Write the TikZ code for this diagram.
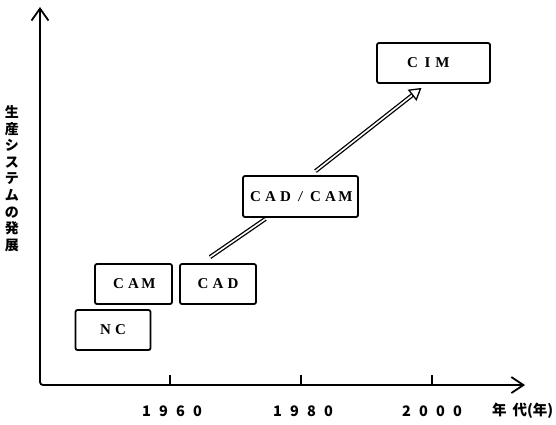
\documentclass[tikz,border=0pt]{standalone}
\usepackage{fontspec}
\setmainfont{Liberation Serif}
\newfontfamily\jp{Noto Sans CJK JP}
\usetikzlibrary{arrows.meta,calc}
\newcommand{\lch}[1]{\makebox[15pt]{#1}}
\newcommand{\dch}[1]{\makebox[17pt]{#1}}
\tikzset{
  x=1pt, y=-1pt,
  stage/.style={draw, line width=1.8pt, rounded corners=2pt, inner sep=0pt,
    font=\bfseries\fontsize{15}{17}\selectfont},
  axisline/.style={line width=1.8pt, rounded corners=3pt},
  dbl/.style={double, double distance=1.6pt, line width=1.3pt},
  year/.style={font=\jp\bfseries\fontsize{14.5}{16}\selectfont, inner sep=0pt},
  tick/.style={line width=1.6pt}
}
\begin{document}
\begin{tikzpicture}
\useasboundingbox (0,0) rectangle (556,424);
% axes
\coordinate (o) at (40,385);
\coordinate (ytip) at (40,7);
\coordinate (xtip) at (525,385);
\draw[axisline, {Straight Barb[length=12pt,width=17pt,line width=1.8pt]}-{Straight Barb[length=12pt,width=16pt,line width=1.8pt]}] (ytip) -- (o) -- (xtip);
% ticks
\foreach \n/\x in {a/170,b/301,c/432}{
  \coordinate (t\n) at (\x,385);
  \coordinate (u\n) at (\x,375);
  \draw[tick] (t\n) -- (u\n);
}
% year labels
\node[year] (y60) at (172,411) {\dch{1}\dch{9}\dch{6}\dch{0}};
\node[year] (y80) at (303,411) {\dch{1}\dch{9}\dch{8}\dch{0}};
\node[year] (y00) at (432,411) {\dch{2}\dch{0}\dch{0}\dch{0}};
\node[year, anchor=west] (nen) at (492,411) {年\hspace{6pt}代(年)};
% vertical label
\node[align=center, inner sep=0pt, font=\jp\bfseries\fontsize{14}{16.6}\selectfont] (ylab) at (12,178.5)
  {生\\産\\シ\\ス\\テ\\ム\\の\\発\\展};
% stages
\node[stage, minimum width=75pt, minimum height=40pt] (nc) at (113,330) {\lch{N}\lch{C}};
\node[stage, minimum width=77pt, minimum height=40pt] (cam) at (133.5,284) {\lch{C}\lch{A}\lch{M}};
\node[stage, minimum width=76pt, minimum height=40pt] (cad) at (218,284) {\lch{C}\lch{A}\lch{D}};
\node[stage, minimum width=115pt, minimum height=41pt] (cadcam) at (300.5,196.5)
  {\lch{C}\lch{A}\lch{D}\lch{\mdseries\scalebox{1.3}[1]{/}}\lch{C}\lch{A}\lch{M}};
\node[stage, minimum width=113pt, minimum height=40pt] (cim) at (433.5,63) {\hspace{-12pt}\lch{C}\lch{I}\lch{M}};
% connectors
\coordinate (s1) at ([xshift=-8pt,yshift=6pt]cad.north);
\coordinate (e1) at ([xshift=-35pt,yshift=-1pt]cadcam.south);
\draw[dbl] (s1) -- (e1);
\coordinate (s2) at ([xshift=15pt,yshift=4pt]cadcam.north);
\coordinate (e2) at ([xshift=-12pt,yshift=-4pt]cim.south);
\draw[dbl, shorten >=11pt] (s2) -- (e2);
\draw[line width=1.3pt, -{Triangle[open,length=12pt,width=14pt,line width=1.3pt]}] ($(e2)!12pt!(s2)$) -- (e2);
\end{tikzpicture}
\end{document}
